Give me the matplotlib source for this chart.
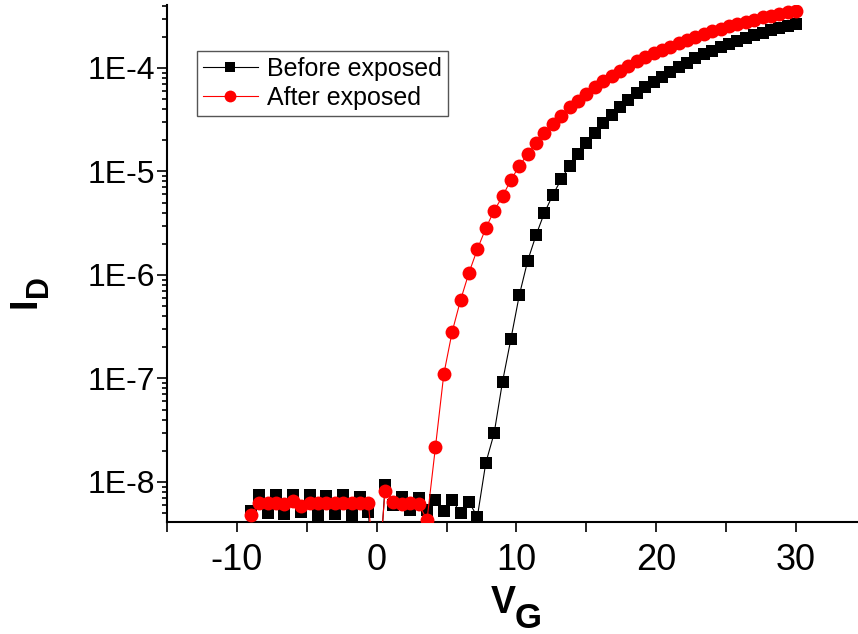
import matplotlib
matplotlib.use("Agg")
import matplotlib.pyplot as plt
from matplotlib.ticker import FixedLocator, LogLocator, NullFormatter

plt.rcParams['font.family'] = ['Liberation Sans', 'DejaVu Sans']

# Barrido de compuerta (V)
vg = [-9.0, -8.4, -7.8, -7.2, -6.6, -6.0, -5.4, -4.8, -4.2, -3.6, -3.0,
      -2.4, -1.8, -1.2, -0.6, 0.0, 0.6, 1.2, 1.8, 2.4, 3.0, 3.6, 4.2,
      4.8, 5.4, 6.0, 6.6, 7.2, 7.8, 8.4, 9.0, 9.6, 10.2, 10.8, 11.4,
      12.0, 12.6, 13.2, 13.8, 14.4, 15.0, 15.6, 16.2, 16.8, 17.4, 18.0,
      18.6, 19.2, 19.8, 20.4, 21.0, 21.6, 22.2, 22.8, 23.4, 24.0, 24.6,
      25.2, 25.8, 26.4, 27.0, 27.6, 28.2, 28.8, 29.4, 30.0]

# Corriente de drenaje antes de la exposicion (A)
id_before = [5.2e-9, 7.4e-9, 5.0e-9, 7.5e-9, 4.9e-9, 7.4e-9, 5.1e-9, 7.5e-9,
             4.8e-9, 7.3e-9, 4.9e-9, 7.4e-9, 4.8e-9, 7.2e-9, 5.1e-9, 5.0e-10,
             9.4e-9, 6.0e-9, 7.2e-9, 5.3e-9, 7.0e-9, 5.3e-9, 6.7e-9, 5.2e-9,
             6.7e-9, 5.0e-9, 6.4e-9, 4.6e-9, 1.52e-8, 2.95e-8, 9.3e-8, 2.41e-7,
             6.37e-7, 1.37e-6, 2.43e-6, 4.0e-6, 5.93e-6, 8.4e-6, 1.14e-5,
             1.48e-5, 1.87e-5, 2.34e-5, 2.92e-5, 3.52e-5, 4.17e-5, 4.91e-5,
             5.69e-5, 6.5e-5, 7.38e-5, 8.24e-5, 9.2e-5, 1.03e-4, 1.12e-4,
             1.24e-4, 1.36e-4, 1.47e-4, 1.58e-4, 1.71e-4, 1.84e-4, 1.95e-4,
             2.07e-4, 2.19e-4, 2.33e-4, 2.43e-4, 2.55e-4, 2.66e-4]

# Corriente de drenaje despues de la exposicion (A)
id_after = [4.8e-9, 6.2e-9, 6.2e-9, 6.3e-9, 6.1e-9, 6.5e-9, 5.9e-9, 6.3e-9,
            6.2e-9, 6.2e-9, 6.3e-9, 6.2e-9, 6.2e-9, 6.3e-9, 6.3e-9, 8.0e-10,
            8.2e-9, 6.45e-9, 6.1e-9, 6.3e-9, 6.1e-9, 4.3e-9, 2.16e-8, 1.10e-7,
            2.83e-7, 5.73e-7, 1.05e-6, 1.77e-6, 2.82e-6, 4.18e-6, 5.75e-6,
            8.28e-6, 1.13e-5, 1.48e-5, 1.87e-5, 2.34e-5, 2.88e-5, 3.46e-5,
            4.17e-5, 4.83e-5, 5.61e-5, 6.5e-5, 7.49e-5, 8.37e-5, 9.42e-5,
            1.05e-4, 1.16e-4, 1.27e-4, 1.39e-4, 1.49e-4, 1.61e-4, 1.73e-4,
            1.87e-4, 2.0e-4, 2.13e-4, 2.26e-4, 2.40e-4, 2.53e-4, 2.66e-4,
            2.80e-4, 2.93e-4, 3.09e-4, 3.2e-4, 3.33e-4, 3.45e-4, 3.55e-4]

x_ticks = [-10, 0, 10, 20, 30]
x_labels = ['-10', '0', '10', '20', '30']
y_ticks = [1e-8, 1e-7, 1e-6, 1e-5, 1e-4]
y_labels = ['1E-8', '1E-7', '1E-6', '1E-5', '1E-4']
series_names = ['Before exposed', 'After exposed']

W, H = 858, 634
fig = plt.figure(figsize=(W / 100, H / 100), dpi=100)
ax = fig.add_axes([167 / W, 112 / H, 699 / W, 517 / H])

ax.plot(vg, id_before, '-s', color='black', lw=0.8, ms=8.5, mew=0,
        label=series_names[0], zorder=3)
ax.plot(vg, id_after, '-o', color='red', lw=0.8, ms=10, mew=0,
        label=series_names[1], zorder=4)

ax.set_yscale('log')
ax.set_xlim(-15, 35)
ax.set_ylim(4.1e-9, 4.06e-4)

ax.xaxis.set_major_locator(FixedLocator(x_ticks))
ax.set_xticklabels(x_labels)
ax.xaxis.set_minor_locator(FixedLocator([-15, -5, 5, 15, 25, 35]))
ax.yaxis.set_major_locator(FixedLocator(y_ticks))
ax.set_yticklabels(y_labels)
ax.yaxis.set_minor_locator(LogLocator(base=10, subs=range(2, 10), numticks=20))
ax.yaxis.set_minor_formatter(NullFormatter())

ax.tick_params(axis='both', which='both', direction='out', width=1.2,
               top=False, right=False)
ax.tick_params(axis='x', which='both', length=7.2, labelsize=26, pad=8)
ax.tick_params(axis='y', which='major', length=7, labelsize=23, pad=1.5)
ax.tick_params(axis='y', which='minor', length=3.5)

for side in ['top', 'right']:
    ax.spines[side].set_visible(False)
for side in ['left', 'bottom']:
    ax.spines[side].set_linewidth(1.5)

leg = ax.legend(loc='upper left', bbox_to_anchor=(196.7 / W, 1 - 50.7 / H),
                bbox_transform=fig.transFigure, borderaxespad=0,
                fontsize=18, handlelength=2.2, handletextpad=0.35,
                borderpad=0.25, labelspacing=0.2, fancybox=False,
                framealpha=1, edgecolor='#555555', numpoints=1)
leg.get_frame().set_linewidth(1.0)
leg.legend_handles[0].set_markersize(7.5)
leg.legend_handles[1].set_markersize(8.5)

# Etiquetas de ejes con subindices
fig.text(25.5 / W, 1 - 302.5 / H, 'I', rotation=90, fontsize=27.5,
         fontweight='bold', ha='center', va='center')
fig.text(39 / W, 1 - 286 / H, 'D', rotation=90, fontsize=22,
         fontweight='bold', ha='center', va='center')
fig.text(503 / W, 1 - 603 / H, 'V', fontsize=27, fontweight='bold',
         ha='center', va='center')
fig.text(528 / W, 1 - 619 / H, 'G', fontsize=25, fontweight='bold',
         ha='center', va='center')

fig.savefig('out.png', dpi=100)
